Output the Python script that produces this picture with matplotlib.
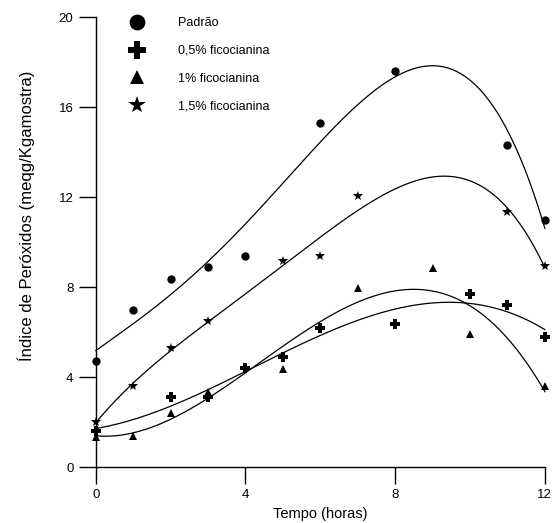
import numpy as np
import matplotlib
matplotlib.use('Agg')
import matplotlib.pyplot as plt

plt.rcParams['font.family'] = ['Liberation Sans', 'DejaVu Sans']

# Data
x_padrao = [0, 1, 2, 3, 4, 6, 8, 11, 12]
y_padrao = [4.7, 7.0, 8.35, 8.9, 9.4, 15.3, 17.6, 14.3, 11.0]

x_05 = [0, 2, 3, 4, 5, 6, 8, 10, 11, 12]
y_05 = [1.6, 3.1, 3.1, 4.4, 4.9, 6.2, 6.35, 7.7, 7.2, 5.8]

x_1 = [0, 1, 2, 3, 5, 7, 9, 10, 12]
y_1 = [1.35, 1.4, 2.4, 3.35, 4.35, 7.95, 8.85, 5.9, 3.6]

x_15 = [0, 1, 2, 3, 5, 6, 7, 11, 12]
y_15 = [2.0, 3.6, 5.3, 6.5, 9.15, 9.4, 12.05, 11.35, 8.95]

series = [
    ('Padrão', x_padrao, y_padrao, 'o', 6.0, 4),
    ('0,5% ficocianina', x_05, y_05, 'P', 6.8, 3),
    ('1% ficocianina', x_1, y_1, '^', 5.5, 3),
    ('1,5% ficocianina', x_15, y_15, '*', 7.0, 4),
]

fig = plt.figure(figsize=(5.6, 5.23), dpi=100)
ax = fig.add_axes([0.171, 0.107, 0.802, 0.86])

xx = np.linspace(0, 12, 200)
for label, xs, ys, m, ms, deg in series:
    ax.plot(xs, ys, linestyle='none', marker=m, markersize=ms, color='black',
            markeredgewidth=0, label=label, clip_on=False, zorder=3)
    # polynomial trend
    p = np.poly1d(np.polyfit(xs, ys, deg))
    ax.plot(xx, p(xx), color='black', linewidth=0.9, clip_on=False)

ax.set_xlim(0, 12)
ax.set_ylim(0, 20)
ax.set_xticks([0, 4, 8, 12])
ax.set_yticks([0, 4, 8, 12, 16, 20])

for s in ['top', 'right']:
    ax.spines[s].set_visible(False)
for s in ['left', 'bottom']:
    ax.spines[s].set_linewidth(1.0)

ax.tick_params(direction='out', length=12, width=1.0, labelsize=9.5, pad=4)

ax.set_xlabel('Tempo (horas)', fontsize=10.5)
ax.xaxis.set_label_coords(0.5, -0.088)
ax.set_ylabel('Índice de Peróxidos (meqg/Kgamostra)', fontsize=12)
ax.yaxis.set_label_coords(-0.135, 0.558)

leg = ax.legend(loc='upper left', bbox_to_anchor=(0.045, 1.025), frameon=False,
                fontsize=9, markerscale=1.9, labelspacing=1.25, handletextpad=2.6,
                handlelength=1.5)

plt.savefig('out.png', dpi=100)
